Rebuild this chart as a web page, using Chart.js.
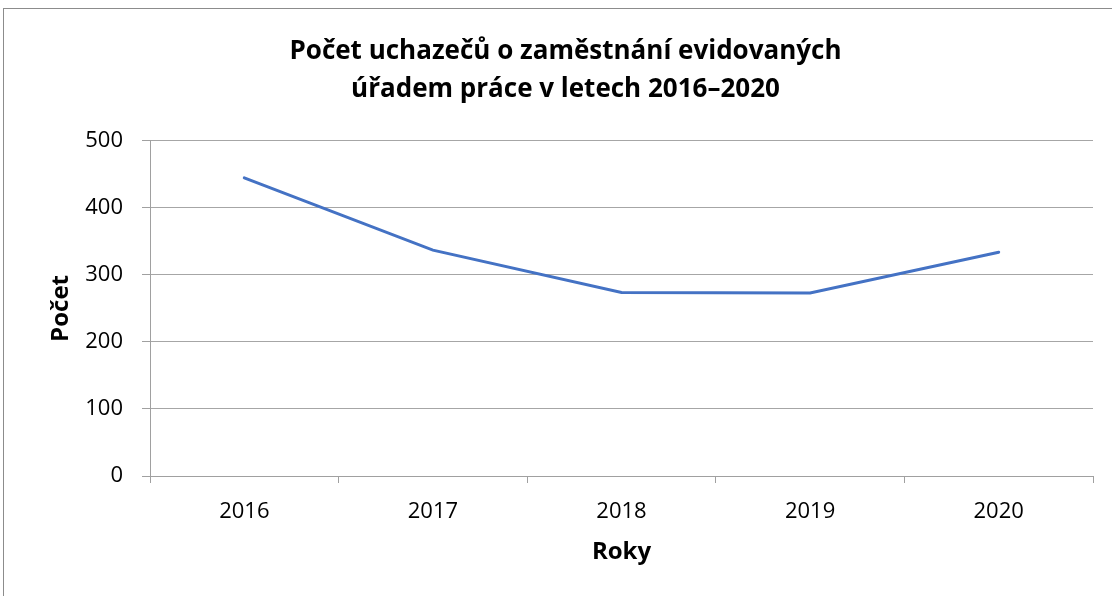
<!DOCTYPE html>
<html lang="cs">
<head>
<meta charset="utf-8">
<script src="https://cdn.jsdelivr.net/npm/chart.js@4/dist/chart.umd.min.js"></script>
<style>
    html, body { margin: 0; padding: 0; background: #fff; }
    #wrap { position: relative; width: 1112px; height: 596px; overflow: hidden; }
    #frame {
        position: absolute; left: 3px; top: 8px; right: -2px; bottom: -2px;
        border: 1px solid #8c8c8c; pointer-events: none;
    }
</style>
</head>
<body>
<div id="wrap">
    <div id="frame"></div>
    <canvas id="chart" width="1112" height="596"></canvas>
</div>
<script>
// data
const years = ['2016', '2017', '2018', '2019', '2020'];
const applicants = [445, 337, 274, 273, 334];
const titleLines = ['Počet uchazečů o zaměstnání evidovaných', 'úřadem práce v letech 2016–2020'];

const FONT = "'Open Sans', 'Noto Sans', sans-serif";
const GRID = '#a6a6a6';
const AXIS = '#a0a0a0';

document.addEventListener('DOMContentLoaded', () => {
    const ctx = document.getElementById('chart');
    new Chart(ctx, {
        type: 'line',
        data: {
            labels: years,
            datasets: [{
                label: 'Počet',
                data: applicants,
                borderColor: '#4472c4',
                backgroundColor: '#4472c4',
                borderWidth: 3,
                pointRadius: 0,
                tension: 0,
                borderCapStyle: 'round'
            }]
        },
        options: {
            responsive: false,
            animation: false,
            // left padding keeps the title centred where the original has it
            layout: { padding: { top: 17, right: 19, bottom: 0, left: 38 } },
            plugins: {
                legend: { display: false },
                tooltip: { enabled: false },
                title: {
                    display: true,
                    text: titleLines,
                    color: '#000',
                    font: { family: FONT, size: 26, weight: 'bold', lineHeight: 1.46 },
                    padding: { top: 16, bottom: 32 }
                }
            },
            scales: {
                x: {
                    offset: true,
                    afterFit: s => { s.height = 120; },
                    grid: {
                        offset: true,
                        drawOnChartArea: false,
                        drawTicks: true,
                        tickLength: 7,
                        color: AXIS
                    },
                    border: { color: AXIS, width: 1 },
                    ticks: { color: '#000', font: { family: FONT, size: 22 }, padding: 16 },
                    title: {
                        display: true,
                        text: 'Roky',
                        color: '#000',
                        font: { family: FONT, size: 24, weight: 'bold' },
                        padding: { top: 0, bottom: 29 }
                    }
                },
                y: {
                    min: 0,
                    max: 500,
                    afterFit: s => { s.width = 112; },
                    ticks: { stepSize: 100, color: '#000', font: { family: FONT, size: 22 }, padding: 19 },
                    grid: { color: GRID, tickLength: 8, tickColor: AXIS },
                    border: { color: AXIS, width: 1 },
                    title: {
                        display: true,
                        text: 'Počet',
                        color: '#000',
                        font: { family: FONT, size: 24, weight: 'bold' },
                        padding: { top: 9, bottom: 0 }
                    }
                }
            }
        }
    });
});
</script>
</body>
</html>
